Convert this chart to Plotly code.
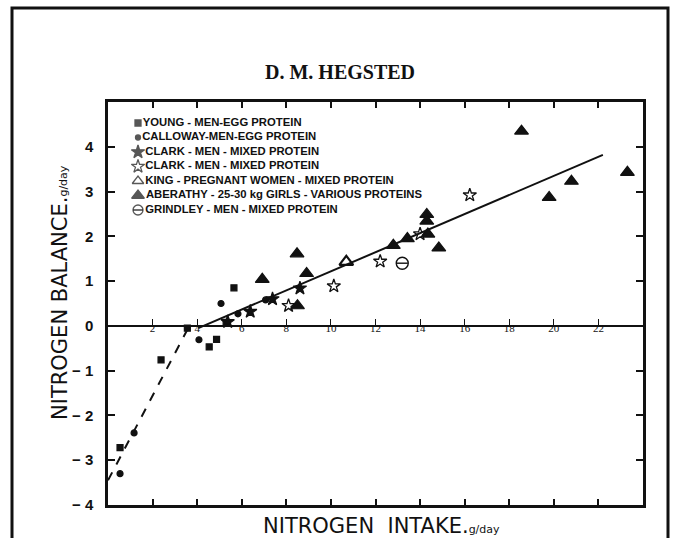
import plotly.graph_objects as go

# ---- data: nitrogen intake (g/day) vs nitrogen balance (g/day) ----
young_x = [0.54, 2.38, 3.56, 4.54, 4.87, 5.30, 5.65]
young_y = [-2.72, -0.76, -0.05, -0.47, -0.30, 0.08, 0.85]

calloway_x = [0.54, 1.17, 4.08, 5.07, 5.83, 7.07]
calloway_y = [-3.30, -2.39, -0.31, 0.50, 0.27, 0.58]

clark_filled_x = [5.37, 6.38, 7.38, 8.61]
clark_filled_y = [0.09, 0.32, 0.60, 0.84]

clark_open_x = [8.10, 10.13, 12.21, 14.00, 16.23]
clark_open_y = [0.45, 0.89, 1.44, 2.05, 2.92]

king_x = [10.69]
king_y = [1.43]

aberathy_x = [6.92, 8.48, 8.91, 8.50, 12.80, 13.43, 14.30, 14.30, 14.35, 14.84, 18.55, 19.79, 20.79, 23.30]
aberathy_y = [1.04, 1.61, 1.17, 0.45, 1.80, 1.95, 2.49, 2.34, 2.05, 1.74, 4.35, 2.87, 3.23, 3.43]

grindley_x = [13.20]
grindley_y = [1.40]

# fitted lines: below and above the break point
fit_low_x = [0.0, 3.65]
fit_low_y = [-3.45, 0.0]
fit_high_x = [4.05, 22.2]
fit_high_y = [-0.05, 3.82]

x_ticks = [2, 4, 6, 8, 10, 12, 14, 16, 18, 20, 22]
y_ticks = [-4, -3, -2, -1, 0, 1, 2, 3, 4]
y_ticktext = ["\u2212 4", "\u2212 3", "\u2212 2", "\u2212 1", "0", "1", "2", "3", "4"]

legend_labels = [
    "YOUNG - MEN-EGG PROTEIN",
    "CALLOWAY-MEN-EGG PROTEIN",
    "CLARK - MEN - MIXED PROTEIN",
    "CLARK - MEN - MIXED PROTEIN",
    "KING - PREGNANT WOMEN - MIXED PROTEIN",
    "ABERATHY - 25-30 kg GIRLS - VARIOUS PROTEINS",
    "GRINDLEY - MEN - MIXED PROTEIN",
]
legend_symbols = ["square", "circle", "star", "star-open", "triangle-up-open",
                  "triangle-up", "circle-open"]
legend_sizes = [6, 5, 10, 10, 10, 11, 10]

# ---- page geometry ----
W, H = 678, 538
ML, MR, MT, MB = 108, 35, 102, 33
PW, PH = W - ML - MR, H - MT - MB

BLACK = "#111111"
fig = go.Figure()


def pts(x, y, symbol, size, lw=1.2, name=""):
    fig.add_trace(go.Scatter(
        x=x, y=y, mode="markers", name=name, showlegend=False,
        marker=dict(symbol=symbol, size=size, color=BLACK,
                    line=dict(color=BLACK, width=lw)),
        hoverinfo="x+y"))


# fitted lines drawn on the zero-line axis
fig.add_trace(go.Scatter(x=fit_low_x, y=fit_low_y, mode="lines", xaxis="x3", yaxis="y",
                         line=dict(color=BLACK, width=2, dash="dash"), showlegend=False))
fig.add_trace(go.Scatter(x=fit_high_x, y=fit_high_y, mode="lines", xaxis="x3", yaxis="y",
                         line=dict(color=BLACK, width=2), showlegend=False))

pts(young_x, young_y, "square", 6, name="Young")
pts(calloway_x, calloway_y, "circle", 6, name="Calloway")
pts(clark_filled_x, clark_filled_y, "star", 10, name="Clark")
pts(clark_open_x, clark_open_y, "star-open", 10, lw=1.3, name="Clark")
pts(king_x, king_y, "triangle-up-open", 12, lw=2.2, name="King")
pts(aberathy_x, aberathy_y, "triangle-up", 12, name="Aberathy")
pts(grindley_x, grindley_y, "circle-open", 12, lw=1.4, name="Grindley")
pts(grindley_x, grindley_y, "line-ew", 8, lw=1.4, name="Grindley")

# ---- key block in the upper left, on its own pixel-scaled axes ----
KEY_X = 30
KEY_TOP = 21
KEY_STEP = 14.5
rows = [KEY_TOP + KEY_STEP * i for i in range(len(legend_labels))]
fig.add_trace(go.Scatter(
    x=[KEY_X] * len(rows), y=rows, mode="markers+text", xaxis="x2", yaxis="y2",
    text=legend_labels, textposition="middle right",
    textfont=dict(family="Liberation Sans", size=11.3, color=BLACK, weight="bold"),
    marker=dict(symbol=legend_symbols, size=legend_sizes, color=BLACK,
                line=dict(color=BLACK, width=1.3)),
    showlegend=False, hoverinfo="skip"))
fig.add_trace(go.Scatter(
    x=[KEY_X], y=[rows[-1]], mode="markers", xaxis="x2", yaxis="y2",
    marker=dict(symbol="line-ew", size=7, line=dict(color=BLACK, width=1.2)),
    showlegend=False, hoverinfo="skip"))

axis_common = dict(showgrid=False, zeroline=False, linecolor=BLACK, tickcolor=BLACK)

fig.update_layout(
    width=W, height=H,
    margin=dict(l=ML, r=MR, t=MT, b=MB),
    paper_bgcolor="white", plot_bgcolor="white",
    xaxis=dict(range=[0, 24], tickvals=x_ticks, showticklabels=False,
               ticks="inside", ticklen=6, tickwidth=1.5,
               showline=True, linewidth=2.5, mirror="ticks", **axis_common),
    yaxis=dict(range=[-4, 5], tickvals=y_ticks, ticktext=y_ticktext,
               ticks="inside", ticklen=7, tickwidth=1.5,
               showline=True, linewidth=2.5, mirror="ticks",
               ticklabelstandoff=9,
               tickfont=dict(family="Liberation Sans", size=15, color=BLACK, weight="bold"),
               **axis_common),
    xaxis3=dict(range=[0, 24], overlaying="x", anchor="free", position=4 / 9,
                tickvals=x_ticks, ticks="inside", ticklen=6, tickwidth=1.2,
                showline=True, linewidth=1.5, ticklabelstandoff=-8,
                tickfont=dict(family="Liberation Serif", size=11, color=BLACK),
                **axis_common),
    xaxis2=dict(range=[0, PW], domain=[0, 1], anchor="y2", overlaying="x", visible=False),
    yaxis2=dict(range=[PH, 0], domain=[0, 1], anchor="x2", overlaying="y", visible=False),
    showlegend=False,
)

fig.add_annotation(
    text="<b>D. M. HEGSTED</b>", xref="paper", yref="paper",
    x=(340 - ML) / PW, y=(H - MB - 72) / PH, yanchor="middle", showarrow=False,
    font=dict(family="Liberation Serif", size=20, color=BLACK))

fig.add_annotation(
    text="NITROGEN  INTAKE.<span style='font-size:11px'>g/day</span>",
    xref="paper", yref="paper", x=(381 - ML) / PW, y=(H - MB - 526) / PH,
    yanchor="middle", showarrow=False,
    font=dict(family="DejaVu Sans", size=21, color=BLACK))

fig.add_annotation(
    text="NITROGEN BALANCE.<span style='font-size:11px'>g/day</span>",
    xref="paper", yref="paper", x=(60 - ML) / PW, y=(H - MB - 293) / PH,
    xanchor="center", textangle=-90, showarrow=False,
    font=dict(family="DejaVu Sans", size=21, color=BLACK))

# page border
fig.add_shape(type="rect", xref="paper", yref="paper",
              x0=(12 - ML) / PW, x1=(668 - ML) / PW,
              y0=(H - MB - 560) / PH, y1=(H - MB - 8) / PH,
              line=dict(color=BLACK, width=3), layer="below")

fig.write_html("out.html")
